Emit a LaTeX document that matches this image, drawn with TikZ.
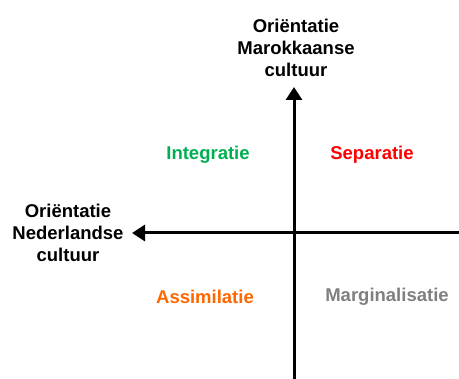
\documentclass[tikz,border=0pt]{standalone}
\usepackage{fontspec}
\setmainfont{Liberation Sans}
\usetikzlibrary{arrows.meta}
\definecolor{cgreen}{RGB}{0,176,80}
\definecolor{cred}{RGB}{255,0,0}
\definecolor{corange}{RGB}{255,102,0}
\definecolor{cgray}{RGB}{128,128,128}
\begin{document}
\begin{tikzpicture}[x=1pt,y=-1pt,
  axis/.style={line width=3pt,-{Triangle[length=13pt,width=16pt]}},
  lbl/.style={font=\fontsize{18.5}{22}\selectfont\bfseries,align=center,inner sep=0pt},
  quad/.style={font=\fontsize{18.5}{22}\selectfont\bfseries,inner sep=0pt}]
\useasboundingbox (0,0) rectangle (459,379);
\coordinate (vb) at (294,379);
\coordinate (vt) at (294,87);
\coordinate (hr) at (459,233);
\coordinate (hl) at (132,233);
\draw[axis] (vb) -- (vt);
\draw[axis] (hr) -- (hl);
\node[lbl] (top) at (296,48) {Oriëntatie\\Marokkaanse\\cultuur};
\node[lbl] (left) at (68,233) {Oriëntatie\\Nederlandse\\cultuur};
\node[quad,text=cgreen] (int) at (208,155) {Integratie};
\node[quad,text=cred] (sep) at (372,155) {Separatie};
\node[quad,text=corange] (ass) at (205,297) {Assimilatie};
\node[quad,text=cgray] (mar) at (387,297) {Marginalisatie};
\end{tikzpicture}
\end{document}
